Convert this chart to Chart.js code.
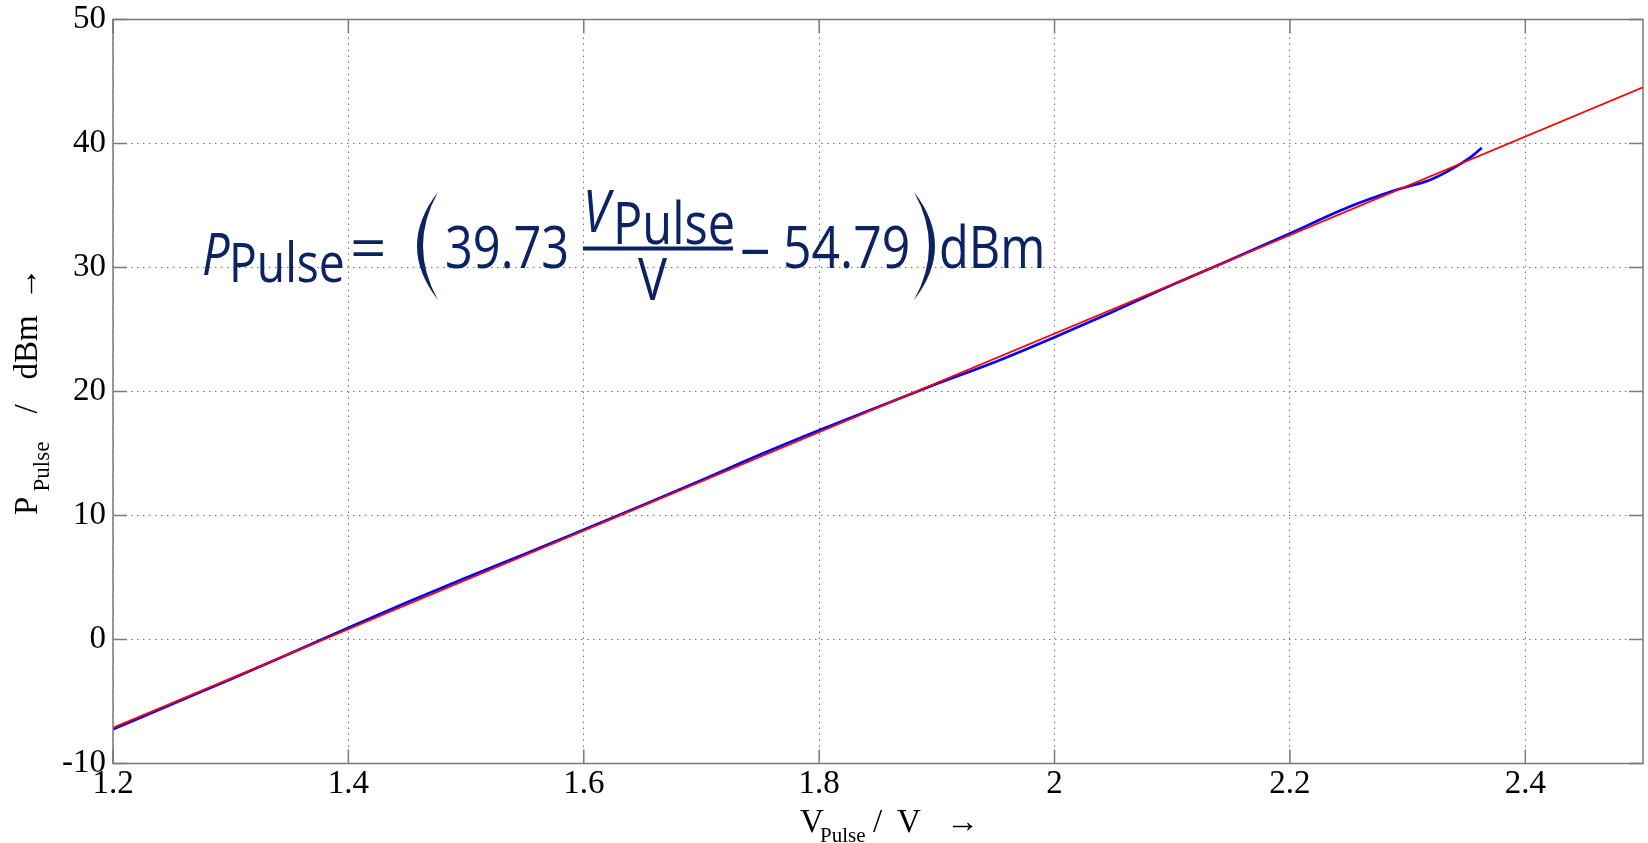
<!DOCTYPE html>
<html>
<head>
<meta charset="utf-8">
<script src="https://cdn.jsdelivr.net/npm/chart.js@4.4.1/dist/chart.umd.min.js"></script>
<style>
  html, body { margin: 0; padding: 0; background: #fff; }
  #wrap { width: 1648px; height: 843px; }
</style>
</head>
<body>
<div id="wrap"><canvas id="graph"></canvas></div>
<script>
// measured pulse power vs. pulse voltage
const vPulse = [1.2, 1.25, 1.3, 1.35, 1.4, 1.45, 1.5, 1.55, 1.6, 1.65, 1.7, 1.75, 1.8, 1.85,
  1.9, 1.95, 2.0, 2.05, 2.1, 2.15, 2.2, 2.25, 2.29, 2.32, 2.346, 2.355, 2.363];
const pPulse = [-7.25, -5.22, -3.2, -1.15, 0.95, 3.0, 4.98, 6.9, 8.85, 10.83, 12.85, 14.92, 16.88, 18.75,
  20.62, 22.4, 24.38, 26.45, 28.6, 30.65, 32.75, 34.88, 36.25, 37.1, 38.42, 39.0, 39.66];

// linear fit P = a * V + b (dBm)
const fitSlope = 39.73;
const fitOffset = -54.79;
const fitRange = [1.2, 2.5];

const xTicks = [1.2, 1.4, 1.6, 1.8, 2.0, 2.2, 2.4];
const xTickLabels = ['1.2', '1.4', '1.6', '1.8', '2', '2.2', '2.4'];
const yTicks = [-10, 0, 10, 20, 30, 40, 50];
const yTickLabels = ['-10', '0', '10', '20', '30', '40', '50'];

const serif = '"Liberation Serif", "Times New Roman", serif';
const eqColor = '#0b2362';
const eqFace = '"Open Sans", sans-serif';
const eqSqueeze = 0.84;

const measured = vPulse.map((v, i) => ({ x: v, y: pPulse[i] }));
const fitLine = fitRange.map(v => ({ x: v, y: fitSlope * v + fitOffset }));

// pieces: [text, size, x, dy] drawn along the current x direction
function drawPieces(ctx, pieces, baseY) {
  pieces.forEach(p => {
    ctx.font = p[1] + 'px ' + serif;
    ctx.fillText(p[0], p[2], baseY + p[3]);
  });
}

function eqText(ctx, s, x, y, opts) {
  const o = opts || {};
  ctx.save();
  ctx.translate(x, y);
  ctx.scale(o.sx || eqSqueeze, 1);
  ctx.font = (o.italic ? 'italic ' : '') + (o.size || 58) + 'px ' + eqFace;
  ctx.fillText(s, 0, 0);
  ctx.restore();
}

// big bracket as a crescent, thicker in the middle
function bracket(ctx, xEnd, top, bottom, xOuter, xInner) {
  const mid = (top + bottom) / 2;
  ctx.beginPath();
  ctx.moveTo(xEnd, top);
  ctx.quadraticCurveTo(2 * xOuter - xEnd, mid, xEnd, bottom);
  ctx.quadraticCurveTo(2 * xInner - xEnd, mid, xEnd, top);
  ctx.closePath();
  ctx.fill();
}

const decor = {
  id: 'decor',
  afterDraw(chart) {
    const ctx = chart.ctx;
    const a = chart.chartArea;
    const xs = chart.scales.x, ys = chart.scales.y;
    ctx.save();

    // frame and inward tick marks
    ctx.strokeStyle = '#7a7a7a';
    ctx.lineWidth = 1.5;
    ctx.strokeRect(a.left, a.top, a.right - a.left, a.bottom - a.top);
    ctx.beginPath();
    xTicks.forEach(v => {
      const px = xs.getPixelForValue(v);
      ctx.moveTo(px, a.bottom); ctx.lineTo(px, a.bottom - 14);
      ctx.moveTo(px, a.top); ctx.lineTo(px, a.top + 14);
    });
    yTicks.forEach(v => {
      const py = ys.getPixelForValue(v);
      ctx.moveTo(a.left, py); ctx.lineTo(a.left + 14, py);
      ctx.moveTo(a.right, py); ctx.lineTo(a.right - 14, py);
    });
    ctx.stroke();

    // axis titles with subscripts
    ctx.fillStyle = '#000';
    ctx.textAlign = 'left';
    ctx.textBaseline = 'alphabetic';
    ctx.save();
    ctx.translate((a.left + a.right) / 2, 0);
    drawPieces(ctx, [['V', 33, -78, 0], ['Pulse', 21, -58, 10], ['/', 33, -5, 0],
      ['V', 33, 19, 0], ['\u2192', 33, 68, 0]], 832);
    ctx.restore();
    ctx.save();
    ctx.translate(0, (a.top + a.bottom) / 2);
    ctx.rotate(-Math.PI / 2);
    drawPieces(ctx, [['P', 33, -123.5, 0], ['Pulse', 23, -100, 12], ['/', 33, -22, 0],
      ['dBm', 33, 12, 0], ['\u2192', 33, 91, 0]], 37);
    ctx.restore();

    // fit equation
    const ox = a.left, oy = a.top;
    ctx.fillStyle = eqColor;
    eqText(ctx, 'P', ox + 89, oy + 255, { italic: true });
    eqText(ctx, 'Pulse', ox + 116, oy + 262, { size: 55 });
    eqText(ctx, '=', ox + 237, oy + 249.5, { sx: 1.1 });
    bracket(ctx, ox + 325, oy + 172.5, oy + 280.5, ox + 304, ox + 310);
    eqText(ctx, fitSlope.toFixed(2), ox + 332, oy + 248.5);
    eqText(ctx, 'V', ox + 470, oy + 212, { italic: true });
    eqText(ctx, 'Pulse', ox + 500, oy + 224);
    ctx.fillRect(ox + 470, oy + 227, 150, 4);
    eqText(ctx, 'V', ox + 525, oy + 280);
    eqText(ctx, '\u2013', ox + 627, oy + 248.5, { sx: 1.05 });
    eqText(ctx, Math.abs(fitOffset).toFixed(2), ox + 670, oy + 248.5, { sx: 0.86 });
    bracket(ctx, ox + 801, oy + 172.5, oy + 280.5, ox + 822, ox + 816);
    eqText(ctx, 'dBm', ox + 826, oy + 248.5);

    ctx.restore();
  }
};

new Chart(document.getElementById('graph'), {
  type: 'line',
  data: {
    datasets: [
      {
        label: 'measured',
        data: measured,
        order: 1,
        borderColor: '#0000ff',
        borderWidth: 2.6,
        pointRadius: 0,
        cubicInterpolationMode: 'monotone',
        fill: false
      },
      {
        label: 'fit',
        data: fitLine,
        order: 0,
        borderColor: '#ff0000',
        borderWidth: 1.8,
        pointRadius: 0,
        tension: 0,
        fill: false
      }
    ]
  },
  options: {
    responsive: true,
    maintainAspectRatio: false,
    animation: false,
    events: [],
    layout: { padding: { top: 19.5, right: 5, left: 0, bottom: 0 } },
    plugins: { legend: { display: false }, tooltip: { enabled: false } },
    scales: {
      x: {
        type: 'linear',
        min: 1.2,
        max: 2.5,
        afterBuildTicks: s => { s.ticks = xTicks.map(v => ({ value: v })); },
        afterFit: s => { s.height = 79.5; s.paddingLeft = 0; s.paddingRight = 0; },
        grid: { color: '#707070', lineWidth: 1, drawTicks: false },
        border: { display: false, dash: [1.5, 4.5] },
        ticks: {
          padding: 1,
          color: '#000',
          font: { family: serif, size: 33 },
          maxRotation: 0,
          callback: (v, i) => xTickLabels[i]
        }
      },
      y: {
        min: -10,
        max: 50,
        afterBuildTicks: s => { s.ticks = yTicks.map(v => ({ value: v })); },
        afterFit: s => { s.width = 113; s.paddingTop = 0; s.paddingBottom = 0; },
        grid: { color: '#707070', lineWidth: 1, drawTicks: false },
        border: { display: false, dash: [1.5, 4.5] },
        ticks: {
          padding: 7,
          color: '#000',
          font: { family: serif, size: 33 },
          callback: (v, i) => yTickLabels[i]
        }
      }
    }
  },
  plugins: [decor]
});
</script>
</body>
</html>
